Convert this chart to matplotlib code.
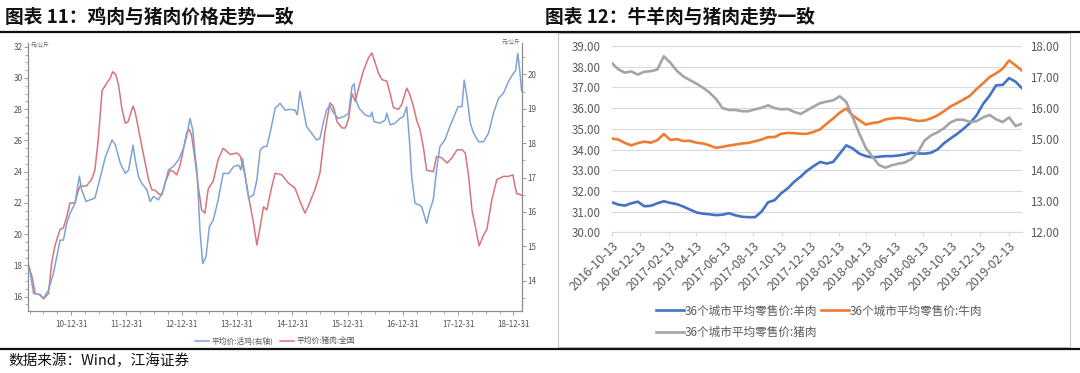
import matplotlib
matplotlib.use("Agg")
import matplotlib.pyplot as plt
import pandas as pd
from matplotlib.ticker import FixedLocator, MultipleLocator, FormatStrFormatter
from matplotlib.lines import Line2D
from matplotlib.patches import Rectangle
import matplotlib.dates as mdates

plt.rcParams['font.family'] = ['Noto Sans CJK SC', 'DejaVu Sans']

# ---------------- Left chart data (decimal years) ----------------
pork_years = [
    2010.23, 2010.29, 2010.35, 2010.44, 2010.50, 2010.59, 2010.65, 2010.71, 2010.80, 2010.86,
    2010.92, 2010.98, 2011.07, 2011.13, 2011.16, 2011.28, 2011.37, 2011.43, 2011.49, 2011.56,
    2011.65, 2011.71, 2011.75, 2011.81, 2011.86, 2011.92, 2011.98, 2012.03, 2012.12, 2012.16,
    2012.22, 2012.28, 2012.34, 2012.40, 2012.46, 2012.52, 2012.58, 2012.64, 2012.70, 2012.79,
    2012.85, 2012.91, 2012.97, 2013.03, 2013.09, 2013.14, 2013.18, 2013.24, 2013.30, 2013.36,
    2013.42, 2013.48, 2013.57, 2013.66, 2013.75, 2013.88, 2014.00, 2014.06, 2014.15, 2014.22,
    2014.30, 2014.36, 2014.41, 2014.48, 2014.54, 2014.63, 2014.69, 2014.81, 2014.93, 2015.05,
    2015.14, 2015.23, 2015.29, 2015.41, 2015.50, 2015.59, 2015.68, 2015.74, 2015.81, 2015.90,
    2015.96, 2016.02, 2016.08, 2016.14, 2016.20, 2016.29, 2016.38, 2016.44, 2016.50, 2016.56,
    2016.62, 2016.71, 2016.77, 2016.83, 2016.92, 2016.98, 2017.07, 2017.12, 2017.19, 2017.25,
    2017.31, 2017.37, 2017.43, 2017.55, 2017.61, 2017.70, 2017.80, 2017.89, 2017.98, 2018.07,
    2018.13, 2018.19, 2018.25, 2018.31, 2018.38, 2018.46, 2018.52, 2018.61, 2018.70, 2018.82,
    2018.91, 2018.99, 2019.03, 2019.06, 2019.15]
pork_price = [
    18.0, 17.3, 16.2, 16.1, 15.85, 16.2, 18.2, 19.3, 20.3, 20.4,
    21.1, 22.0, 22.0, 22.8, 23.05, 23.1, 23.5, 24.1, 26.05, 29.2,
    29.7, 30.0, 30.4, 30.2, 29.5, 28.0, 27.1, 27.2, 28.2, 27.8,
    26.7, 25.6, 24.55, 23.5, 22.85, 22.8, 22.6, 22.5, 23.3, 24.1,
    24.0, 23.8, 24.4, 25.4, 26.5, 26.7, 26.3, 24.8, 23.05, 21.55,
    21.35, 22.9, 23.4, 24.8, 25.5, 25.1, 25.2, 25.0, 23.7, 22.2,
    20.7, 19.3, 20.3, 21.75, 21.55, 23.05, 23.9, 23.8, 23.27, 22.95,
    22.1, 21.35, 21.8, 22.85, 23.9, 26.5, 28.4, 28.2, 27.2, 26.8,
    26.8, 27.4, 29.0, 28.5, 29.35, 30.5, 31.3, 31.6, 30.96, 30.3,
    29.9, 29.8, 29.0, 28.1, 28.0, 28.3, 29.35, 29.0, 28.2, 27.3,
    26.7, 25.6, 24.1, 24.0, 24.97, 24.9, 24.55, 24.9, 25.4, 25.4,
    25.2, 23.7, 21.55, 20.5, 19.25, 19.95, 20.3, 22.2, 23.5, 23.7,
    23.7, 23.8, 23.05, 22.6, 22.5]

chicken_years = [
    2010.25, 2010.32, 2010.44, 2010.50, 2010.59, 2010.68, 2010.80, 2010.86, 2010.92, 2010.98,
    2011.07, 2011.11, 2011.15, 2011.19, 2011.27, 2011.34, 2011.43, 2011.53, 2011.62, 2011.74,
    2011.80, 2011.89, 2011.98, 2012.04, 2012.12, 2012.16, 2012.22, 2012.28, 2012.37, 2012.43,
    2012.49, 2012.58, 2012.67, 2012.76, 2012.85, 2012.94, 2013.02, 2013.09, 2013.15, 2013.20,
    2013.24, 2013.28, 2013.33, 2013.38, 2013.44, 2013.50, 2013.57, 2013.66, 2013.75, 2013.85,
    2013.94, 2014.03, 2014.07, 2014.10, 2014.15, 2014.21, 2014.30, 2014.36, 2014.42, 2014.48,
    2014.54, 2014.61, 2014.69, 2014.78, 2014.87, 2014.96, 2015.05, 2015.09, 2015.14, 2015.19,
    2015.26, 2015.35, 2015.44, 2015.50, 2015.56, 2015.62, 2015.68, 2015.74, 2015.83, 2015.93,
    2016.02, 2016.08, 2016.12, 2016.15, 2016.21, 2016.32, 2016.41, 2016.44, 2016.48, 2016.59,
    2016.68, 2016.71, 2016.77, 2016.86, 2016.95, 2017.01, 2017.07, 2017.12, 2017.16, 2017.22,
    2017.30, 2017.34, 2017.43, 2017.49, 2017.55, 2017.61, 2017.67, 2017.76, 2017.85, 2017.95,
    2018.00, 2018.07, 2018.11, 2018.16, 2018.22, 2018.28, 2018.37, 2018.46, 2018.55, 2018.64,
    2018.73, 2018.82, 2018.91, 2019.00, 2019.04, 2019.08, 2019.12, 2019.15]
chicken_price = [
    14.35, 13.63, 13.6, 13.49, 13.73, 14.21, 15.18, 15.18, 15.67, 15.96,
    16.25, 16.64, 17.04, 16.64, 16.3, 16.35, 16.4, 17.02, 17.6, 18.09,
    17.95, 17.41, 17.12, 17.22, 17.94, 17.51, 17.02, 16.83, 16.64, 16.3,
    16.45, 16.35, 16.64, 17.22, 17.32, 17.51, 17.8, 18.19, 18.72, 18.38,
    17.7, 17.12, 15.47, 14.5, 14.7, 15.57, 15.76, 16.35, 17.12, 17.12,
    17.32, 17.36, 17.22, 17.56, 17.02, 16.4, 16.5, 16.93, 17.8, 17.9,
    17.9, 18.38, 19.01, 19.16, 18.96, 18.98, 18.96, 18.82, 19.5, 19.06,
    18.48, 18.29, 18.09, 18.14, 18.58, 18.96, 19.1, 18.9, 18.72, 18.77,
    18.87, 19.64, 19.73, 19.25, 19.01, 18.82, 18.77, 18.9, 18.62, 18.58,
    18.67, 18.87, 18.53, 18.58, 18.72, 18.77, 19.06, 18.09, 17.02, 16.25,
    16.2, 16.15, 15.67, 16.06, 16.35, 17.22, 17.9, 18.09, 18.48, 18.87,
    19.06, 19.06, 19.83, 19.35, 18.58, 18.29, 18.04, 18.04, 18.29, 18.87,
    19.3, 19.45, 19.79, 20.03, 20.1, 20.61, 20.03, 19.5]

left_tick_years = [2011, 2012, 2013, 2014, 2015, 2016, 2017, 2018, 2019]
left_tick_labels = ['10-12-31', '11-12-31', '12-12-31', '13-12-31', '14-12-31',
                    '15-12-31', '16-12-31', '17-12-31', '18-12-31']

# ---------------- Right chart data (biweekly) ----------------
meat_dates = pd.date_range('2016-10-13', periods=64, freq='14D')
mutton = [
    31.45, 31.34, 31.29, 31.40, 31.48, 31.26, 31.28, 31.40, 31.50, 31.42,
    31.36, 31.24, 31.10, 30.96, 30.90, 30.87, 30.83, 30.85, 30.92, 30.82,
    30.75, 30.73, 30.73, 31.00, 31.45, 31.55, 31.88, 32.12, 32.44, 32.69,
    32.98, 33.20, 33.40, 33.32, 33.40, 33.80, 34.20, 34.05, 33.80, 33.68,
    33.62, 33.65, 33.68, 33.68, 33.71, 33.76, 33.84, 33.81, 33.80, 33.84,
    34.00, 34.30, 34.53, 34.75, 35.00, 35.28, 35.65, 36.20, 36.60, 37.10,
    37.12, 37.45, 37.27, 36.95]
beef = [
    34.53, 34.48, 34.32, 34.20, 34.31, 34.38, 34.33, 34.45, 34.75, 34.46,
    34.50, 34.41, 34.42, 34.33, 34.29, 34.20, 34.08, 34.13, 34.19, 34.24,
    34.29, 34.32, 34.40, 34.48, 34.60, 34.60, 34.76, 34.80, 34.79, 34.76,
    34.76, 34.85, 34.98, 35.25, 35.50, 35.78, 35.98, 35.64, 35.42, 35.20,
    35.28, 35.32, 35.45, 35.50, 35.53, 35.50, 35.44, 35.38, 35.40, 35.50,
    35.65, 35.85, 36.08, 36.24, 36.42, 36.60, 36.92, 37.20, 37.50, 37.68,
    37.90, 38.30, 38.06, 37.80]
pork36 = [
    17.46, 17.25, 17.14, 17.18, 17.08, 17.17, 17.19, 17.24, 17.67, 17.46,
    17.20, 17.02, 16.90, 16.79, 16.66, 16.50, 16.30, 16.00, 15.94, 15.94,
    15.90, 15.90, 15.96, 16.01, 16.09, 16.00, 15.96, 15.97, 15.88, 15.81,
    15.93, 16.05, 16.16, 16.21, 16.25, 16.38, 16.20, 15.70, 15.18, 14.72,
    14.44, 14.17, 14.08, 14.16, 14.21, 14.25, 14.36, 14.58, 14.95, 15.12,
    15.22, 15.35, 15.54, 15.63, 15.62, 15.55, 15.58, 15.70, 15.78, 15.64,
    15.55, 15.70, 15.42, 15.50]

W, H = 1080, 373
fig = plt.figure(figsize=(W / 100, H / 100), dpi=100)

def fx(px):
    return px / W

def fy(py):
    return 1 - py / H

# Titles and rules
fig.text(fx(5), fy(17), '图表 11：鸡肉与猪肉价格走势一致', fontsize=13.5, fontweight='bold',
         va='center', ha='left', color='#111111')
fig.text(fx(545), fy(17), '图表 12：牛羊肉与猪肉走势一致', fontsize=13.5, fontweight='bold',
         va='center', ha='left', color='#111111')
fig.add_artist(Line2D([0, 1], [fy(32), fy(32)], color='#111111', lw=1.6))
fig.add_artist(Line2D([0, 1], [fy(349), fy(349)], color='#111111', lw=1.6))
fig.text(fx(8), fy(361), '数据来源：Wind，江海证券', fontsize=10.5, va='center', ha='left',
         color='#111111')

# ---------------- Left chart ----------------
axc = '#8c8c8c'
ax1 = fig.add_axes([fx(28), fy(311), fx(521.7) - fx(28), fy(43) - fy(311)])
ax1.plot(pork_years, pork_price, color='#d9747a', lw=1.1, zorder=2)
ax1.set_xlim(2010.22, 2019.15)
ax1.set_ylim(15.08, 32.24)
ax2 = ax1.twinx()
ax2.plot(chicken_years, chicken_price, color='#7ea3d6', lw=1.1, zorder=3)
ax2.set_ylim(13.12, 20.91)

for a in (ax1, ax2):
    a.spines['top'].set_visible(False)
    for s in ('left', 'right', 'bottom'):
        a.spines[s].set_color(axc)
        a.spines[s].set_linewidth(0.8)
    a.tick_params(colors=axc, labelcolor='#555555', labelsize=5.8, width=0.6, length=3)
    a.tick_params(which='minor', colors=axc, width=0.5, length=2)
    a.patch.set_visible(False)

ax1.xaxis.set_major_locator(FixedLocator(left_tick_years))
ax1.set_xticklabels(left_tick_labels)
ax1.xaxis.set_minor_locator(MultipleLocator(0.25))
ax1.yaxis.set_major_locator(MultipleLocator(2))
ax1.yaxis.set_minor_locator(MultipleLocator(0.5))
ax2.yaxis.set_major_locator(MultipleLocator(1))
ax2.yaxis.set_minor_locator(MultipleLocator(0.5))
ax1.yaxis.set_major_formatter(FormatStrFormatter('%d'))
ax2.yaxis.set_major_formatter(FormatStrFormatter('%d'))
ax1.tick_params(axis='y', pad=1)
ax2.tick_params(axis='y', pad=1)

fig.text(fx(31), fy(45), '元/公斤', fontsize=4, color='#666666', ha='left', va='center')
fig.text(fx(520), fy(42), '元/公斤', fontsize=4, color='#666666', ha='right', va='center')

leg1 = fig.legend(handles=[Line2D([], [], color='#7ea3d6', lw=1.1),
                           Line2D([], [], color='#d9747a', lw=1.1)],
                  labels=['平均价:活鸡(右轴)', '平均价:猪肉:全国'],
                  loc='center', bbox_to_anchor=(fx(275), fy(341)), ncol=2, frameon=False,
                  fontsize=5.6, handlelength=1.8, handletextpad=0.3, columnspacing=0.9,
                  labelcolor='#555555')

# ---------------- Right chart ----------------
fig.add_artist(Rectangle((fx(558), fy(347)), fx(1070) - fx(558), fy(33) - fy(347),
                         fill=False, edgecolor='#c8c8c8', lw=0.8))
bx = fig.add_axes([fx(611.7), fy(232.3), fx(1021.7) - fx(611.7), fy(46) - fy(232.3)])
l_mutton, = bx.plot(meat_dates, mutton, color='#4472c4', lw=1.9, zorder=3)
l_beef, = bx.plot(meat_dates, beef, color='#ed7d31', lw=1.9, zorder=3)
bx.set_ylim(30, 39)
bx.set_xlim(pd.Timestamp('2016-10-13'), pd.Timestamp('2019-03-13'))
bx2 = bx.twinx()
l_pork, = bx2.plot(meat_dates, pork36, color='#a5a5a5', lw=1.9, zorder=2)
bx2.set_ylim(12, 18)

bx.yaxis.set_major_locator(MultipleLocator(1))
bx2.yaxis.set_major_locator(MultipleLocator(1))
bx.yaxis.set_major_formatter(FormatStrFormatter('%.2f'))
bx2.yaxis.set_major_formatter(FormatStrFormatter('%.2f'))
bx.grid(axis='y', color='#d9d9d9', lw=0.8)
bx.set_axisbelow(True)
right_ticks = pd.date_range('2016-10-13', periods=15, freq=pd.DateOffset(months=2))
bx.xaxis.set_major_locator(FixedLocator(mdates.date2num(right_ticks)))
bx.set_xticklabels([d.strftime('%Y-%m-%d') for d in right_ticks], rotation=45,
                   ha='right', rotation_mode='anchor')
for a in (bx, bx2):
    for s in a.spines.values():
        s.set_visible(False)
    a.tick_params(axis='y', length=0, labelsize=8.3, labelcolor='#595959', pad=8)
bx.spines['bottom'].set_visible(True)
bx.spines['bottom'].set_color('#d9d9d9')
bx.tick_params(axis='x', length=3, color='#d9d9d9', labelsize=8.8, labelcolor='#595959', pad=2)
bx2.tick_params(axis='y', pad=6)

leg2 = fig.legend(handles=[l_mutton, l_pork, l_beef],
                  labels=['36个城市平均零售价:羊肉', '36个城市平均零售价:猪肉',
                          '36个城市平均零售价:牛肉'],
                  loc='upper left', bbox_to_anchor=(fx(645), fy(294)), ncol=2, frameon=False,
                  fontsize=8.4, handlelength=2.4, handletextpad=0.1, columnspacing=0.3,
                  labelspacing=0.75, labelcolor='#595959')

fig.savefig('out.png', dpi=100)
